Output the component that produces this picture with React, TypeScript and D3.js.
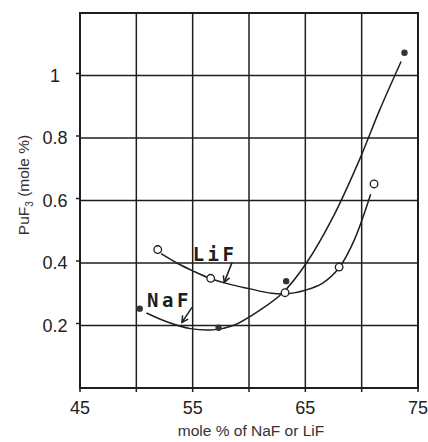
import React from "react";
import * as d3 from "d3";

// measured points
const lifX = [51.9, 56.6, 63.2, 68.0, 71.1];
const lifY = [0.443, 0.351, 0.305, 0.387, 0.653];
const nafX = [50.3, 57.3, 63.3, 73.8];
const nafY = [0.254, 0.193, 0.342, 1.073];

// hand-drawn fitted curves
const lifCurveX = [52.2, 53.6, 55, 56.6, 58.5, 60, 62, 63.5, 65, 66.5, 68, 69.3, 70.8];
const lifCurveY = [0.43, 0.4, 0.375, 0.35, 0.33, 0.318, 0.303, 0.302, 0.313, 0.335, 0.385, 0.47, 0.62];
const nafCurveX = [50.9, 52.7, 54.8, 56.8, 58.6, 61, 63, 65.1, 67.5, 69.8, 71.6, 73.5];
const nafCurveY = [0.24, 0.212, 0.19, 0.186, 0.2, 0.25, 0.305, 0.4, 0.55, 0.73, 0.89, 1.045];

const xTicks = [45, 55, 65, 75];
const xGrid = [50, 55, 60, 65, 70];
const yTicks = [0.2, 0.4, 0.6, 0.8, 1];

// labels: [text, x, y] and arrows [x1, y1, x2, y2] in data units
const labels: [string, number, number][] = [
  ["NaF", 50.95, 0.258],
  ["LiF", 55.0, 0.405],
];
const arrows: [number, number, number, number][] = [
  [54.94, 0.258, 54.05, 0.21],
  [58.5, 0.402, 57.8, 0.338],
];

const W = 428;
const H = 442;
const margin = { top: 13, right: 10, bottom: 54, left: 80 };

export default function App() {
  const x = d3.scaleLinear().domain([45, 75]).range([margin.left, W - margin.right]);
  const y = d3.scaleLinear().domain([0, 1.2]).range([H - margin.bottom, margin.top]);
  const line = d3
    .line<[number, number]>()
    .x((d) => x(d[0]))
    .y((d) => y(d[1]))
    .curve(d3.curveCatmullRom);

  const lifCurve = lifCurveX.map((v, i) => [v, lifCurveY[i]] as [number, number]);
  const nafCurve = nafCurveX.map((v, i) => [v, nafCurveY[i]] as [number, number]);
  const ink = "#1e1e1e";

  return (
    <svg width={W} height={H} style={{ position: "absolute", left: 0, top: 0, background: "#fff" }}>
      {/* grid */}
      {yTicks.map((t) => (
        <line key={"h" + t} x1={x(45)} x2={x(75)} y1={y(t)} y2={y(t)} stroke={ink} strokeWidth={1.4} />
      ))}
      {xGrid.map((t) => (
        <line key={"v" + t} x1={x(t)} x2={x(t)} y1={y(0)} y2={y(1.2)} stroke={ink} strokeWidth={1.5} />
      ))}
      <rect x={x(45)} y={y(1.2)} width={x(75) - x(45)} height={y(0) - y(1.2)} fill="none" stroke={ink} strokeWidth={2} />

      {/* tick stubs */}
      {[45, ...xGrid, 75].map((t) => (
        <line key={"xt" + t} x1={x(t)} x2={x(t)} y1={y(0)} y2={y(0) + 4} stroke={ink} strokeWidth={1.5} />
      ))}
      {yTicks.map((t) => (
        <line key={"yt" + t} x1={x(45) - 4} x2={x(45)} y1={y(t) - 2} y2={y(t) - 2} stroke={ink} strokeWidth={1.5} />
      ))}

      {/* tick labels */}
      {xTicks.map((t) => (
        <text key={"xl" + t} x={x(t)} y={414} textAnchor="middle" fontFamily="Liberation Sans, Arial, sans-serif" fontSize={18} fill="#222">
          {t}
        </text>
      ))}
      {yTicks.map((t) => (
        <text key={"yl" + t} x={55} y={y(t)} dy="0.35em" textAnchor="middle" fontFamily="Liberation Sans, Arial, sans-serif" fontSize={18} fill="#222">
          {t}
        </text>
      ))}

      {/* axis titles */}
      <text x={251} y={436} textAnchor="middle" fontFamily="Liberation Sans, Arial, sans-serif" fontSize={15.5} fill="#333">
        mole % of NaF or LiF
      </text>
      <text
        transform="translate(29,185) rotate(-90)"
        textAnchor="middle"
        fontFamily="Liberation Sans, Arial, sans-serif"
        fontSize={15.5}
        fill="#333"
      >
        PuF<tspan fontSize={10} dy={4}>3</tspan>
        <tspan dy={-4}> (mole %)</tspan>
      </text>

      {/* curves */}
      <path d={line(lifCurve) ?? ""} fill="none" stroke={ink} strokeWidth={1.5} />
      <path d={line(nafCurve) ?? ""} fill="none" stroke={ink} strokeWidth={1.5} />

      {/* points */}
      {lifX.map((v, i) => (
        <circle key={"lp" + i} cx={x(v)} cy={y(lifY[i])} r={3.8} fill="#fff" stroke={ink} strokeWidth={1.3} />
      ))}
      {nafX.map((v, i) => (
        <circle key={"np" + i} cx={x(v)} cy={y(nafY[i])} r={3.2} fill="#333" />
      ))}

      {/* labels and arrows */}
      {labels.map(([s, lx, ly]) => (
        <text key={s} x={x(lx)} y={y(ly)} fontFamily="DejaVu Sans Mono, monospace" fontWeight="bold" fontSize={19} letterSpacing={3.5} fill={ink}>
          {s}
        </text>
      ))}
      {arrows.map(([x1, y1, x2, y2], i) => {
        const ax = x(x2);
        const ay = y(y2);
        const ang = Math.atan2(ay - y(y1), ax - x(x1));
        const h = 7;
        const p1 = [ax - h * Math.cos(ang - 0.5), ay - h * Math.sin(ang - 0.5)];
        const p2 = [ax - h * Math.cos(ang + 0.5), ay - h * Math.sin(ang + 0.5)];
        return (
          <g key={"a" + i} stroke={ink} strokeWidth={1.5} fill="none">
            <line x1={x(x1)} y1={y(y1)} x2={ax} y2={ay} />
            <path d={`M${p1[0]},${p1[1]}L${ax},${ay}L${p2[0]},${p2[1]}`} />
          </g>
        );
      })}
    </svg>
  );
}
